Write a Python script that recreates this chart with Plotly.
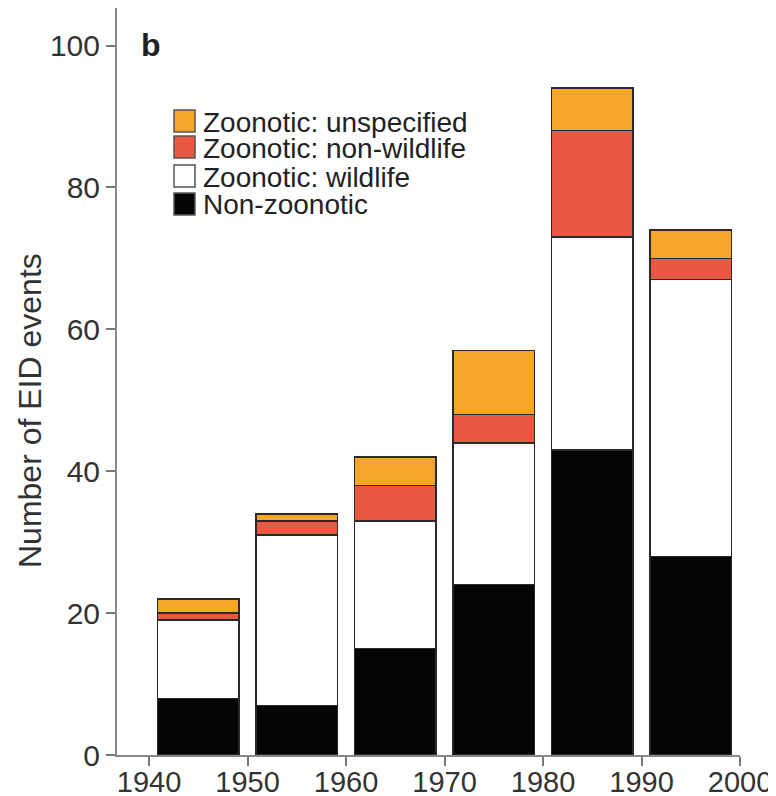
import plotly.graph_objects as go

decades = [1945, 1955, 1965, 1975, 1985, 1995]
non_zoonotic = [8, 7, 15, 24, 43, 28]
zoo_wildlife = [11, 24, 18, 20, 30, 39]
zoo_nonwildlife = [1, 2, 5, 4, 15, 3]
zoo_unspecified = [2, 1, 4, 9, 6, 4]
x_ticks = [1940, 1950, 1960, 1970, 1980, 1990, 2000]
y_ticks = [0, 20, 40, 60, 80, 100]

series = [
    ("Non-zoonotic", non_zoonotic, "#050505"),
    ("Zoonotic: wildlife", zoo_wildlife, "#ffffff"),
    ("Zoonotic: non-wildlife", zoo_nonwildlife, "#e95842"),
    ("Zoonotic: unspecified", zoo_unspecified, "#f4a629"),
]

FONT = "Liberation Sans, Arial, Helvetica, sans-serif"
W, H = 776, 796
OFF = 8  # page offset of the figure inside the browser window
L, R, T, B = 109, 44, 0, 49

fig = go.Figure()
for name, vals, col in series:
    fig.add_trace(go.Bar(
        x=decades, y=vals, name=name, width=8.3,
        marker=dict(color=col, line=dict(color="#2a2a2a", width=1.5)),
        showlegend=False,
    ))

pw = W - L - R
ph = H - T - B
def px(x):  # screen pixel -> paper
    return (x - OFF - L) / pw
def py(y):
    return (H - B - (y - OFF)) / ph

legend_items = [
    ("Zoonotic: unspecified", "#f4a629", 121),
    ("Zoonotic: non-wildlife", "#e95842", 147),
    ("Zoonotic: wildlife", "#ffffff", 176),
    ("Non-zoonotic", "#050505", 204),
]
for name, col, cy in legend_items:
    fig.add_shape(type="rect", xref="paper", yref="paper",
                  x0=px(174), x1=px(195), y0=py(cy + 11), y1=py(cy - 11),
                  fillcolor=col, line=dict(color="#555555", width=1.5))
    fig.add_annotation(text=name, xref="paper", yref="paper",
                       x=px(201), y=py(cy + 1), xanchor="left", yanchor="middle",
                       showarrow=False, font=dict(family=FONT, size=28, color="#222222"))

fig.add_annotation(text="<b>b</b>", xref="paper", yref="paper",
                   x=px(139), y=py(45), xanchor="left", yanchor="middle",
                   showarrow=False, font=dict(family=FONT, size=32, color="#222222"))

fig.add_annotation(text="Number of EID events", xref="paper", yref="paper",
                   x=px(30), y=py(411), xanchor="center", yanchor="middle",
                   textangle=-90, showarrow=False,
                   font=dict(family=FONT, size=32, color="#333333"))

fig.update_layout(
    width=W, height=H,
    margin=dict(l=L, r=R, t=T, b=B),
    barmode="stack",
    plot_bgcolor="white", paper_bgcolor="white",
    font=dict(family=FONT, size=22, color="#333333"),
    xaxis=dict(range=[1936.75, 2000], tickvals=x_ticks, ticks="outside",
               ticklen=9, tickwidth=1.5, tickcolor="#777777",
               ticklabelstandoff=-9,
               showline=True, linecolor="#888888", linewidth=2,
               showgrid=False, zeroline=False, automargin=False,
               tickfont=dict(family=FONT, size=29, color="#333333")),
    yaxis=dict(range=[0, 105.3], tickvals=y_ticks, ticks="outside",
               ticklen=9, tickwidth=1.5, tickcolor="#777777",
               showline=True, linecolor="#888888", linewidth=2,
               showgrid=False, zeroline=False, automargin=False,
               tickfont=dict(family=FONT, size=30, color="#333333")),
)

fig.write_html("out.html")
